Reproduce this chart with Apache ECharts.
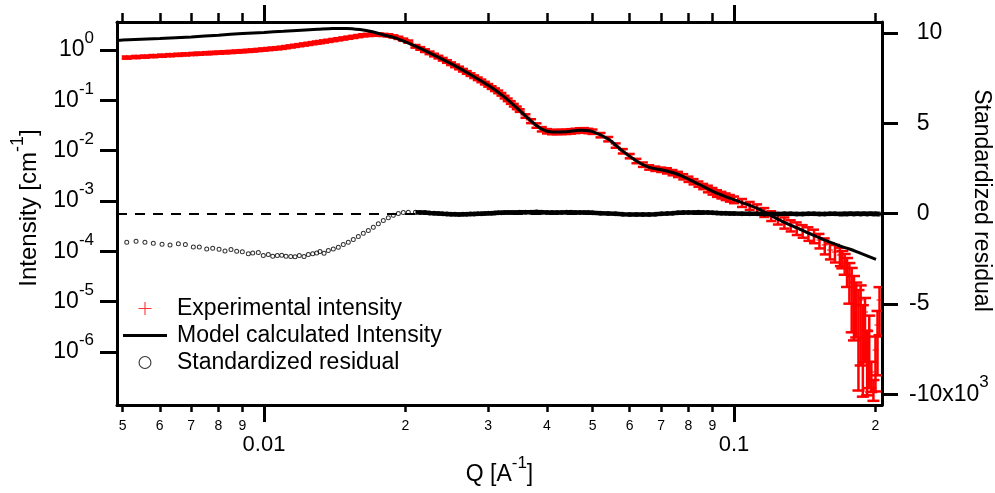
<!DOCTYPE html>
<html><head><meta charset="utf-8">
<script src="https://cdn.jsdelivr.net/npm/echarts@6/dist/echarts.min.js"></script>
<style>html,body{margin:0;padding:0;background:#fff}#c{width:995px;height:493px}</style>
</head><body><div id="c"></div>
<script>
// ---------------- data ----------------
// low-q measurement points (distinct residual circles)
const qLow = [0.005104,0.005342,0.005580,0.005813,0.006067,0.006310,0.006573,0.006802,0.007073,0.007283,
  0.007552,0.007777,0.008022,0.008260,0.008506,0.008746,0.008991,0.009260,0.009462,0.009725,
  0.009965,0.010212,0.010435,0.010673,0.010907,0.011137,0.011397,0.011641,0.011888,0.012164,
  0.012424,0.012693,0.012944,0.013155,0.013418,0.013703,0.014042,0.014391,0.014747,0.015113,
  0.015488,0.015872,0.016266,0.016669,0.017083,0.017507,0.017941,0.018386,0.018842,0.019309,
  0.019787,0.020277];
const iExpLow = [0.708,0.725,0.740,0.756,0.772,0.788,0.804,0.818,0.834,0.847,
  0.862,0.875,0.888,0.901,0.915,0.931,0.947,0.964,0.979,1.002,
  1.023,1.044,1.064,1.084,1.108,1.141,1.178,1.212,1.248,1.288,
  1.326,1.366,1.404,1.437,1.478,1.523,1.578,1.635,1.695,1.758,
  1.824,1.891,1.962,1.998,2.016,2.030,1.992,1.954,1.862,1.747,
  1.604,1.469];
const relErrLow = [0.05,0.05,0.05,0.05,0.05,0.05,0.05,0.05,0.05,0.05,
  0.05,0.05,0.05,0.05,0.05,0.05,0.05,0.05,0.05,0.05,
  0.05,0.05,0.05,0.05,0.05,0.05,0.05,0.05,0.05,0.05,
  0.05,0.05,0.05,0.05,0.05,0.05,0.05,0.05,0.05,0.05,
  0.05,0.05,0.05,0.05,0.05,0.05,0.05,0.05,0.05,0.05,
  0.05,0.05];
const residLow = [-1.59,-1.53,-1.59,-1.64,-1.70,-1.75,-1.68,-1.72,-1.85,-1.85,
  -1.96,-1.92,-1.98,-2.07,-1.99,-2.09,-2.12,-2.23,-2.18,-2.16,
  -2.33,-2.27,-2.36,-2.33,-2.31,-2.36,-2.38,-2.40,-2.33,-2.38,
  -2.27,-2.23,-2.18,-2.11,-2.20,-2.05,-1.96,-1.87,-1.72,-1.59,
  -1.44,-1.27,-1.09,-0.94,-0.76,-0.57,-0.39,-0.24,-0.09,0.0,
  0.06,0.07];

// high-q measurement points
const qHigh = [0.0210,0.0215,0.0220,0.0225,0.0230,0.0235,0.0240,0.0245,0.0250,0.0255,
  0.0260,0.0265,0.0270,0.0275,0.0280,0.0285,0.0290,0.0295,0.0300,0.0305,
  0.0310,0.0315,0.0320,0.0325,0.0330,0.0335,0.0340,0.0345,0.0350,
  0.036,0.037,0.038,0.039,0.040,0.041,0.042,0.043,0.044,0.045,0.046,0.047,0.048,0.049,0.050,
  0.052,0.054,0.056,0.058,0.060,0.062,0.064,0.066,0.068,0.070,0.072,0.074,0.076,0.078,0.080,
  0.082,0.084,0.086,0.088,0.090,0.092,0.094,0.096,0.098,0.100,
  0.104,0.108,0.112,0.116,0.120,0.124,0.128,0.132,0.136,0.140,0.144,0.148,0.152,0.156,0.160,0.164,0.168,
  0.170,0.172,0.174,0.176,0.178,0.180,0.182,0.184,0.186,0.188,0.190,0.192,0.194,0.196,0.198,0.200,0.202,0.204];
const iExpHigh = [1.186,1.076,0.972,0.879,0.796,0.724,0.656,0.592,0.535,0.485,
  0.440,0.397,0.359,0.325,0.295,0.268,0.244,0.220,0.199,0.1795,
  0.1627,0.1475,0.1321,0.1161,0.1024,0.0906,0.0801,0.0710,0.0627,
  0.0489,0.0387,0.0317,0.02675,0.0244,0.02352,0.0236,0.0237,0.0238,0.02427,0.0248,0.02535,0.0255,0.0247,0.0239,
  0.0204,0.0170,0.01268,0.00977,0.00782,0.00625,0.00529,0.00466,0.00439,0.00419,0.0040,0.00368,0.00339,0.00305,0.00272,
  0.00243,0.002176,0.00195,0.00175,0.001576,0.001421,0.001321,0.001227,0.001143,0.001065,
  0.000929,0.000812,0.000714,0.000603,0.000512,0.000437,0.000377,0.000331,0.000293,0.000259,0.000231,0.000207,0.000168,0.0001336,0.0001062,0.0000969,0.0000845,
  7.37e-5,6.14e-5,4.66e-5,3.38e-5,2.46e-5,1.70e-5,1.295e-5,8.58e-6,1.079e-5,4.32e-6,6.23e-6,1.377e-6,2.735e-6,4.0e-7,1.92e-7,1.096e-6,3.44e-6,1.079e-5];
const relErrHigh = [0.06,0.06,0.06,0.06,0.06,0.06,0.06,0.06,0.06,0.06,
  0.06,0.06,0.06,0.06,0.06,0.06,0.06,0.06,0.06,0.06,
  0.06,0.06,0.06,0.06,0.06,0.06,0.06,0.06,0.06,
  0.08,0.09,0.1,0.1,0.1,0.1,0.1,0.1,0.1,0.1,0.1,0.1,0.1,0.1,0.1,
  0.1,0.1,0.1,0.1,0.1,0.1,0.1,0.1,0.1,0.1,0.12,0.12,0.12,0.12,0.12,
  0.12,0.12,0.12,0.15,0.15,0.15,0.15,0.15,0.15,0.15,
  0.18,0.18,0.2,0.2,0.22,0.22,0.25,0.25,0.28,0.28,0.3,0.3,0.32,0.35,0.35,0.38,0.4,
  0.377,0.442,0.58,0.73,0.9,0.9,0.85,0.98,0.95,0.97,0.9,0.9,0.93,0.6,0.442,0.85,0.9,0.8];
const residHigh = [0.07,0.06,0.05,0.03,0.02,0.0,-0.02,-0.03,-0.04,-0.04,
  -0.05,-0.04,-0.04,-0.03,-0.03,-0.02,-0.01,0.0,0.01,0.02,
  0.03,0.04,0.04,0.05,0.05,0.06,0.06,0.06,0.07,
  0.07,0.07,0.08,0.07,0.06,0.06,0.05,0.06,0.07,0.07,0.06,0.06,0.05,0.05,0.04,
  0.02,0.0,-0.02,-0.04,-0.05,-0.06,-0.06,-0.05,-0.04,-0.02,0.0,0.02,0.04,0.05,0.06,
  0.06,0.07,0.06,0.05,0.04,0.03,0.02,0.01,0.0,0.0,
  -0.01,-0.02,-0.02,-0.03,-0.03,-0.03,-0.02,-0.02,-0.03,-0.03,-0.02,-0.02,-0.03,-0.03,-0.02,-0.02,-0.03,
  -0.03,-0.02,-0.03,-0.02,-0.02,-0.03,-0.02,-0.02,-0.03,-0.02,-0.02,-0.03,-0.02,-0.02,-0.03,-0.02,-0.03,-0.03];

// model curve
const qModel = [0.004866,0.005,0.006,0.007,0.008,0.009,0.010,0.011,0.012,0.013,0.014,0.015,0.016,0.017,0.018,0.019,0.020,
  0.0215,0.0225,0.025,0.0275,0.030,0.0325,0.035,0.037,0.039,0.041,0.044,0.047,0.050,0.054,0.058,0.062,0.066,0.070,
  0.074,0.078,0.084,0.090,0.096,0.104,0.112,0.120,0.128,0.136,0.144,0.152,0.160,0.168,0.176,0.184,0.192,0.2005];
const iModel = [1.545,1.58,1.685,1.813,1.972,2.128,2.237,2.352,2.474,2.578,2.674,2.686,2.543,2.299,1.986,1.747,1.448,
  1.076,0.879,0.535,0.325,0.199,0.1161,0.0627,0.0387,0.02675,0.02352,0.0238,0.02535,0.0239,0.0170,0.00977,0.00625,0.00466,0.00419,
  0.00368,0.00305,0.002176,0.001576,0.001227,0.000929,0.000714,0.000512,0.000377,0.000293,0.000231,0.000186,0.0001531,0.0001276,0.0001112,0.0000952,0.0000815,0.0000694];

// ticks
const xMinorTicks = [0.005,0.006,0.007,0.008,0.009,0.02,0.03,0.04,0.05,0.06,0.07,0.08,0.09,0.2];
const xMajorTicks = [0.01,0.1];
const yLeftTicks = [1e-6,1e-5,1e-4,1e-3,1e-2,1e-1,1];
const yRightTicks = [-10,-5,0,5,10];

const XMIN = 0.004866, XMAX = 0.2065;
const YMIN = 8.85e-8, YMAX = 3.6;
const RMIN = -10.6, RMAX = 10.6;

// ---------------- build ----------------
const FONT = 'Liberation Sans';
const qExp = qLow.concat(qHigh);
const iExp = iExpLow.concat(iExpHigh);
const relErr = relErrLow.concat(relErrHigh);
const expData = qExp.map((q, i) => {
  const v = iExp[i], s = v * relErr[i];
  let lo = v - s, cap = 1;
  if (lo <= YMIN) { lo = YMIN; cap = 0; }
  return [q, v, lo, v + s, cap];
});
const residData = qLow.map((q, i) => [q, residLow[i]]).concat(qHigh.map((q, i) => [q, residHigh[i]]));
const residBand = qHigh.map((q, i) => [q, residHigh[i]]);
const modelData = qModel.map((q, i) => [q, iModel[i]]);

const RED = '#ff0000';
function renderErr(params, api) {
  const q = api.value(0), v = api.value(1), lo = api.value(2), hi = api.value(3), cap = api.value(4);
  const c = api.coord([q, v]), t = api.coord([q, hi]), b = api.coord([q, lo]);
  const st = { stroke: RED, lineWidth: 2.5 };
  const thin = { stroke: RED, lineWidth: 1 };
  const cw = q > 0.169 ? 6 : 5;
  const ch = [
    { type: 'line', shape: { x1: c[0], y1: t[1], x2: c[0], y2: b[1] }, style: st },
    { type: 'line', shape: { x1: c[0] - cw, y1: t[1], x2: c[0] + cw, y2: t[1] }, style: st },
    { type: 'line', shape: { x1: c[0] - 3, y1: c[1], x2: c[0] + 3, y2: c[1] }, style: thin },
    { type: 'line', shape: { x1: c[0], y1: c[1] - 2.5, x2: c[0], y2: c[1] + 2.5 }, style: thin }
  ];
  if (cap) ch.push({ type: 'line', shape: { x1: c[0] - cw, y1: b[1], x2: c[0] + cw, y2: b[1] }, style: st });
  return { type: 'group', children: ch };
}

const RICH = {
  b: { fontSize: 23, lineHeight: 40, color: '#000', fontFamily: FONT },
  s: { fontSize: 17, lineHeight: 17, verticalAlign: 'top', color: '#000', fontFamily: FONT },
  h: { fontSize: 23, lineHeight: 40, color: 'rgba(0,0,0,0)', fontFamily: FONT }
};
const RICH_T = {
  b: { fontSize: 24, lineHeight: 40, color: '#000', fontFamily: FONT },
  s: { fontSize: 18, lineHeight: 18, verticalAlign: 'top', color: '#000', fontFamily: FONT }
};
const RING = 'path://M0,5a5,5 0 1,0 10,0a5,5 0 1,0 -10,0zM2,5a3,3 0 1,1 6,0a3,3 0 1,1 -6,0z';
const RING_LEG = 'path://M0,6.5a6.5,6.5 0 1,0 13,0a6.5,6.5 0 1,0 -13,0zM1.1,6.5a5.4,5.4 0 1,1 10.8,0a5.4,5.4 0 1,1 -10.8,0z';

function xAxisBase(pos) {
  return {
    type: 'log', logBase: 10, min: XMIN, max: XMAX, position: pos, gridIndex: 0,
    splitLine: { show: false }, minorTick: { show: false }, minorSplitLine: { show: false },
    nameMoveOverlap: false
  };
}

const option = {
  animation: false,
  backgroundColor: '#fff',
  textStyle: { fontFamily: FONT, color: '#000' },
  grid: { left: 117, right: 113, top: 22, bottom: 88, containLabel: false, outerBoundsMode: 'none' },
  legend: {
    orient: 'vertical', left: 123, top: 297, padding: 0,
    itemWidth: 44, itemHeight: 13, itemGap: 4,
    textStyle: { fontSize: 23, color: '#000', fontFamily: FONT, padding: [0, 0, 0, 5] },
    data: [
      { name: 'Experimental intensity', icon: 'path://M5.5,0h1v5.5h5.5v1h-5.5v5.5h-1v-5.5h-5.5v-1h5.5z', itemStyle: { color: '#ff3333' } },
      { name: 'Model calculated Intensity', icon: 'path://M0,0h44v3h-44z', itemStyle: { color: '#000' } },
      { name: 'Standardized residual', icon: RING_LEG, itemStyle: { color: '#000' } }
    ]
  },
  xAxis: [
    Object.assign(xAxisBase('bottom'), {
      axisLine: { show: true, onZero: false, lineStyle: { color: '#000', width: 3 } },
      axisTick: { show: true, inside: false, length: 7, lineStyle: { color: '#000', width: 2.5 }, customValues: xMinorTicks },
      axisLabel: {
        show: true, customValues: xMinorTicks, fontSize: 14, margin: 14, color: '#000', fontFamily: FONT,
        formatter: v => String(Math.round(v / Math.pow(10, Math.floor(Math.log10(v) + 1e-9))))
      },
      name: '{b|Q [A}{s|-1}{b|]}', nameLocation: 'middle', nameGap: 50,
      nameTextStyle: { rich: RICH }
    }),
    Object.assign(xAxisBase('bottom'), {
      axisLine: { show: false, onZero: false },
      axisTick: { show: true, inside: false, length: 17, lineStyle: { color: '#000', width: 3 }, customValues: xMajorTicks },
      axisLabel: { show: true, customValues: xMajorTicks, fontSize: 22, margin: 29, color: '#000', fontFamily: FONT, formatter: v => String(v) }
    }),
    Object.assign(xAxisBase('top'), {
      axisLine: { show: true, onZero: false, lineStyle: { color: '#000', width: 3 } },
      axisTick: { show: true, inside: false, length: 9, lineStyle: { color: '#000', width: 2.5 }, customValues: xMinorTicks },
      axisLabel: { show: false }
    }),
    Object.assign(xAxisBase('top'), {
      axisLine: { show: false, onZero: false },
      axisTick: { show: true, inside: false, length: 17, lineStyle: { color: '#000', width: 3 }, customValues: xMajorTicks },
      axisLabel: { show: false }
    })
  ],
  yAxis: [
    {
      type: 'log', logBase: 10, min: YMIN, max: YMAX, position: 'left', nameMoveOverlap: false,
      splitLine: { show: false },
      axisLine: { show: true, onZero: false, lineStyle: { color: '#000', width: 3 } },
      axisTick: { show: true, inside: false, length: 17, lineStyle: { color: '#000', width: 3 }, customValues: yLeftTicks },
      axisLabel: {
        show: true, customValues: yLeftTicks, margin: 23, rich: RICH,
        formatter: v => '{b|10}{s|' + Math.round(Math.log10(v)) + '}'
      },
      name: '{b|Intensity [cm}{s|-1}{b|]}', nameLocation: 'middle', nameGap: 68, nameRotate: 90,
      nameTextStyle: { rich: RICH_T, padding: [0, 0, 0, 11] }
    },
    {
      type: 'value', min: RMIN, max: RMAX, position: 'right', nameMoveOverlap: false,
      splitLine: { show: false },
      axisLine: { show: true, onZero: false, lineStyle: { color: '#000', width: 3 } },
      axisTick: { show: true, inside: false, length: 16, lineStyle: { color: '#000', width: 3 }, customValues: yRightTicks },
      axisLabel: {
        show: true, customValues: yRightTicks, margin: 27, rich: RICH,
        formatter: v => v === -10 ? '{b|-10x10}{s|3}' : (v < 0 ? '{b|' + v + '}' : '{h|-}{b|' + v + '}')
      },
      name: 'Standardized residual', nameLocation: 'middle', nameGap: 88, nameRotate: -90,
      nameTextStyle: { fontSize: 23, color: '#000', fontFamily: FONT, padding: [0, 26, 0, 0] }
    }
  ],
  series: [
    {
      name: 'Experimental intensity', type: 'custom', xAxisIndex: 0, yAxisIndex: 0,
      renderItem: renderErr, clip: true, z: 2,
      dimensions: ['q', 'I', 'lo', 'hi', 'cap'], encode: { x: 0, y: 1 },
      itemStyle: { color: RED },
      data: expData
    },
    {
      name: 'Model calculated Intensity', type: 'line', xAxisIndex: 0, yAxisIndex: 0,
      symbol: 'none', smooth: 0.3, z: 3,
      lineStyle: { color: '#000', width: 3 }, itemStyle: { color: '#000' },
      data: modelData
    },
    {
      name: 'residual band', type: 'line', xAxisIndex: 0, yAxisIndex: 1,
      symbol: 'none', z: 4, lineStyle: { color: '#000', width: 4.5 }, itemStyle: { color: '#000' },
      data: residBand
    },
    {
      name: 'Standardized residual', type: 'scatter', xAxisIndex: 0, yAxisIndex: 1,
      symbol: RING, symbolSize: 5, z: 5,
      itemStyle: { color: '#000' },
      data: residData,
      markLine: {
        silent: true, symbol: ['none', 'none'], label: { show: false },
        lineStyle: { color: '#000', width: 2, type: [10, 8] },
        data: [{ yAxis: 0 }]
      }
    }
  ]
};

const chart = echarts.init(document.getElementById('c'), null, { renderer: 'canvas' });
chart.setOption(option);
</script>
</body></html>
